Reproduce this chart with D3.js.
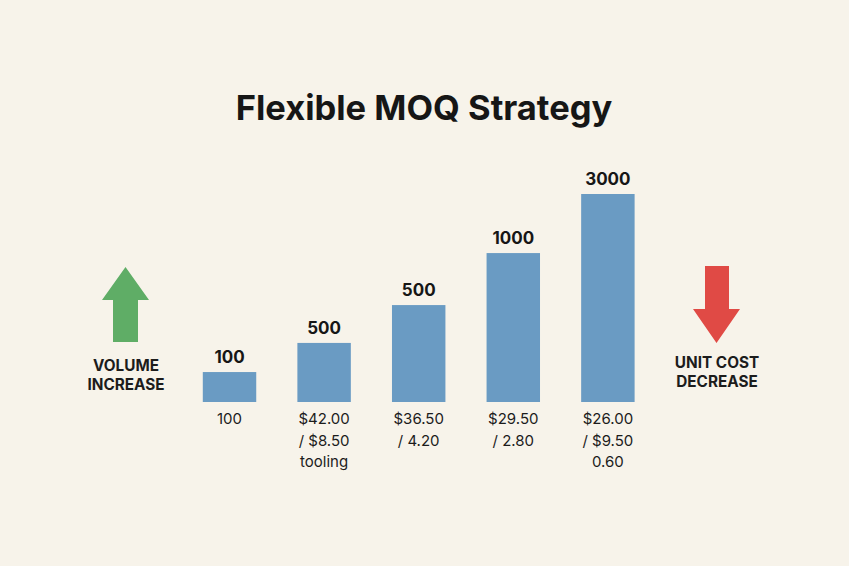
<!DOCTYPE html>
<html><head><meta charset="utf-8">
<script src="https://cdn.jsdelivr.net/npm/d3@7"></script>
<style>html,body{margin:0;padding:0;background:#f7f3ea;}svg{display:block;}</style>
</head><body>
<script>
const title = "Flexible MOQ Strategy";
const categories = ["100", "500", "500", "1000", "3000"];
const barIndex = [14.4, 28.4, 46.6, 71.6, 100];
const priceLabels = [["100"], ["$42.00", "/ $8.50", "tooling"], ["$36.50", "/ 4.20"], ["$29.50", "/ 2.80"], ["$26.00", "/ $9.50", "0.60"]];
const leftLabel = ["VOLUME", "INCREASE"];
const rightLabel = ["UNIT COST", "DECREASE"];

const W = 849, H = 566;
const svg = d3.select("body").append("svg").attr("width", W).attr("height", H);
svg.append("rect").attr("width", W).attr("height", H).attr("fill", "#f7f3ea");

const font = "Inter, 'Liberation Sans', Arial, sans-serif";

svg.append("text").attr("x", 424).attr("y", 120).attr("text-anchor", "middle")
  .attr("font-family", font).attr("font-weight", 700).attr("font-size", 34.5)
  .attr("fill", "#161616").text(title);

const x = d3.scaleBand().domain(d3.range(categories.length)).range([155.5, 681.9]).paddingInner(0.435).paddingOuter(0.5);
const y = d3.scaleLinear().domain([0, 100]).range([402, 194]);

const g = svg.append("g");
g.selectAll("rect.bar").data(barIndex).join("rect").attr("class", "bar")
  .attr("x", (d, i) => x(i)).attr("width", x.bandwidth())
  .attr("y", d => y(d)).attr("height", d => y(0) - y(d))
  .attr("fill", "#6a9bc3");

g.selectAll("text.top").data(categories).join("text").attr("class", "top")
  .attr("x", (d, i) => x(i) + x.bandwidth() / 2)
  .attr("y", (d, i) => y(barIndex[i]) - 9)
  .attr("text-anchor", "middle").attr("font-family", font).attr("font-weight", 700)
  .attr("font-size", 17).attr("fill", "#161616").text(d => d);

priceLabels.forEach((lines, i) => {
  lines.forEach((t, j) => {
    g.append("text").attr("x", x(i) + x.bandwidth() / 2).attr("y", 424 + j * 21.5)
      .attr("text-anchor", "middle").attr("font-family", font).attr("font-size", 15)
      .attr("fill", "#1c1c1c").text(t);
  });
});

// arrows
svg.append("path").attr("d", "M125.5,267 L149,300 L138,300 L138,342 L113,342 L113,300 L102,300 Z").attr("fill", "#5fad66");
svg.append("path").attr("d", "M716.5,343 L740,309 L729,309 L729,266 L705,266 L705,309 L693,309 Z").attr("fill", "#e04a45");

leftLabel.forEach((t, j) => svg.append("text").attr("x", 126).attr("y", 371 + j * 18.5)
  .attr("text-anchor", "middle").attr("font-family", font).attr("font-weight", 700)
  .attr("font-size", 15.3).attr("fill", "#1c1c1c").text(t));
rightLabel.forEach((t, j) => svg.append("text").attr("x", 717).attr("y", 368 + j * 18.5)
  .attr("text-anchor", "middle").attr("font-family", font).attr("font-weight", 700)
  .attr("font-size", 15.3).attr("fill", "#1c1c1c").text(t));
</script>
</body></html>
